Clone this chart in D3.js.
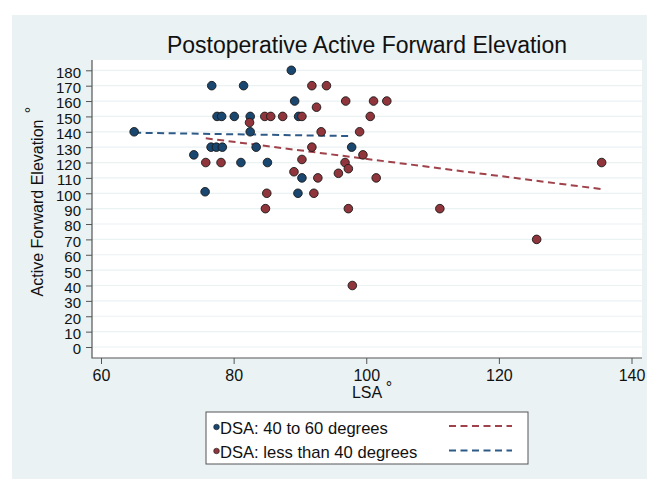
<!DOCTYPE html>
<html>
<head>
<meta charset="utf-8">
<script src="https://cdn.jsdelivr.net/npm/d3@7"></script>
<style>
body { margin: 0; background: #fff; }
text { font-family: "Liberation Sans", Arial, Helvetica, sans-serif; fill: #111; }
</style>
</head>
<body>
<svg width="647" height="479"></svg>
<script>
// DSA 40 to 60 degrees (navy dots)
const BLUE_LSA = [88.7, 76.7, 81.5, 89.2, 77.5, 78.2, 80.1, 82.5, 89.8, 65.0, 82.5,
    76.6, 77.4, 78.3, 83.4, 97.8, 74.0, 81.1, 85.1, 90.3, 75.7, 89.7];
const BLUE_AFE = [180, 170, 170, 160, 150, 150, 150, 150, 150, 140, 140,
    130, 130, 130, 130, 130, 125, 120, 120, 110, 101, 100];

// DSA less than 40 degrees (maroon dots)
const RED_LSA = [91.8, 94.0, 92.5, 96.9, 101.1, 103.1, 82.4, 84.7, 85.6, 87.4, 90.3, 100.6,
    93.2, 99.0, 91.8, 99.5, 75.8, 78.1, 90.3, 96.8, 89.1, 97.3, 95.8, 92.7, 101.5,
    85.0, 92.1, 84.8, 97.3, 111.1, 125.7, 97.9, 135.5];
const RED_AFE = [170, 170, 156, 160, 160, 160, 146, 150, 150, 150, 150, 150,
    140, 140, 130, 125, 120, 120, 122, 120, 114, 116, 113, 110, 110,
    100, 100, 90, 90, 90, 70, 40, 120];

// fitted lines (end points)
const BLUE_FIT_LSA = [65.0, 97.8];
const BLUE_FIT_AFE = [139.4, 137.2];
const RED_FIT_LSA = [75.8, 135.5];
const RED_FIT_AFE = [135.8, 102.7];

const X_TICKS = [60, 80, 100, 120, 140];
const Y_TICKS = [0, 10, 20, 30, 40, 50, 60, 70, 80, 90, 100, 110, 120, 130, 140, 150, 160, 170, 180];
const LEGEND_LABELS = ["DSA: 40 to 60 degrees", "DSA: less than 40 degrees"];

const NAVY = '#1a476f';
const MAROON = '#90353b';
const BG = '#eaf2f3';

const PLOT = {left: 92, right: 642, top: 60, bottom: 358};

const x = d3.scaleLinear().domain([60, 140]).range([101, 631.5]);
const y = d3.scaleLinear().domain([0, 180]).range([347, 70.3]);

const svg = d3.select('svg');

// outer graph region
svg.append('rect')
    .attr('x', 12).attr('y', 15)
    .attr('width', 647 - 12).attr('height', 479 - 15)
    .attr('fill', BG);

// plot region
svg.append('rect')
    .attr('x', PLOT.left).attr('y', PLOT.top)
    .attr('width', PLOT.right - PLOT.left).attr('height', PLOT.bottom - PLOT.top)
    .attr('fill', '#fff');

// horizontal grid
svg.append('g')
    .selectAll('line')
    .data(Y_TICKS)
    .enter()
    .append('line')
    .attr('x1', PLOT.left).attr('x2', PLOT.right)
    .attr('y1', d => y(d)).attr('y2', d => y(d))
    .attr('stroke', BG)
    .attr('stroke-width', 1.2);

// y axis
const yAxis = svg.append('g')
    .attr('transform', `translate(${PLOT.left},0)`)
    .call(d3.axisLeft(y).tickValues(Y_TICKS).tickSize(6).tickPadding(5));
yAxis.select('.domain').remove();
yAxis.selectAll('text').attr('dy', '0.46em').style('font-size', '15px');

// x axis
const xAxis = svg.append('g')
    .attr('transform', `translate(0,${PLOT.bottom})`)
    .call(d3.axisBottom(x).tickValues(X_TICKS).tickSize(6).tickPadding(6));
xAxis.select('.domain').remove();
xAxis.selectAll('text').style('font-size', '16px');

svg.selectAll('.tick line').attr('stroke', '#555');
svg.selectAll('.tick text').attr('fill', '#111').style('font-family', '"Liberation Sans", Arial, sans-serif');

// axis lines (left and bottom only)
svg.append('path')
    .attr('d', `M${PLOT.left},${PLOT.top}V${PLOT.bottom}H${PLOT.right}`)
    .attr('fill', 'none')
    .attr('stroke', '#555')
    .attr('stroke-width', 1.2);

// fit lines
const line = d3.line().x(d => x(d[0])).y(d => y(d[1]));

svg.append('path')
    .datum(d3.zip(BLUE_FIT_LSA, BLUE_FIT_AFE))
    .attr('d', line)
    .attr('fill', 'none')
    .attr('stroke', '#2d5a86')
    .attr('stroke-width', 2)
    .attr('stroke-dasharray', '7,4.5');

svg.append('path')
    .datum(d3.zip(RED_FIT_LSA, RED_FIT_AFE))
    .attr('d', line)
    .attr('fill', 'none')
    .attr('stroke', '#a0424b')
    .attr('stroke-width', 2)
    .attr('stroke-dasharray', '7,4.5');

// dots
svg.append('g')
    .selectAll('circle')
    .data(d3.zip(BLUE_LSA, BLUE_AFE))
    .enter()
    .append('circle')
    .attr('cx', d => x(d[0]))
    .attr('cy', d => y(d[1]))
    .attr('r', 4.3)
    .attr('fill', NAVY)
    .attr('stroke', '#1a1a1a')
    .attr('stroke-width', 0.9);

svg.append('g')
    .selectAll('circle')
    .data(d3.zip(RED_LSA, RED_AFE))
    .enter()
    .append('circle')
    .attr('cx', d => x(d[0]))
    .attr('cy', d => y(d[1]))
    .attr('r', 4.3)
    .attr('fill', MAROON)
    .attr('stroke', '#1a1a1a')
    .attr('stroke-width', 0.9);

// title
svg.append('text')
    .attr('x', (PLOT.left + PLOT.right) / 2)
    .attr('y', 53)
    .attr('text-anchor', 'middle')
    .style('font-size', '23px')
    .text('Postoperative Active Forward Elevation');

// x title
svg.append('text')
    .attr('x', 367).attr('y', 398)
    .attr('text-anchor', 'middle')
    .style('font-size', '16px')
    .text('LSA');
svg.append('text')
    .attr('x', 389).attr('y', 393)
    .attr('text-anchor', 'middle')
    .style('font-size', '16px')
    .text('°');

// y title
svg.append('text')
    .attr('transform', 'translate(43,208) rotate(-90)')
    .attr('text-anchor', 'middle')
    .style('font-size', '16px')
    .text('Active Forward Elevation');
svg.append('text')
    .attr('transform', 'translate(36.5,110) rotate(-90)')
    .attr('text-anchor', 'middle')
    .style('font-size', '16px')
    .text('°');

// legend
const legend = svg.append('g');
legend.append('rect')
    .attr('x', 206).attr('y', 412)
    .attr('width', 322).attr('height', 52)
    .attr('fill', '#fff')
    .attr('stroke', '#555')
    .attr('stroke-width', 1);

const DOT_COLORS = [NAVY, MAROON];
const LINE_COLORS = ['#a0424b', '#2d5a86'];

legend.selectAll('.ldot')
    .data(LEGEND_LABELS)
    .enter()
    .append('circle')
    .attr('cx', 216.5)
    .attr('cy', (d, i) => 427 + i * 24)
    .attr('r', 2.8)
    .attr('fill', (d, i) => DOT_COLORS[i])
    .attr('stroke', '#1a1a1a')
    .attr('stroke-width', 0.6);

legend.selectAll('.ltext')
    .data(LEGEND_LABELS)
    .enter()
    .append('text')
    .attr('x', 220)
    .attr('y', (d, i) => 433.5 + i * 24)
    .style('font-size', '16.6px')
    .text(d => d);

legend.selectAll('.lline')
    .data(LEGEND_LABELS)
    .enter()
    .append('line')
    .attr('x1', 449).attr('x2', 512)
    .attr('y1', (d, i) => 426 + i * 24.5)
    .attr('y2', (d, i) => 426 + i * 24.5)
    .attr('stroke', (d, i) => LINE_COLORS[i])
    .attr('stroke-width', 2)
    .attr('stroke-dasharray', '7,4.5');
</script>
</body>
</html>
